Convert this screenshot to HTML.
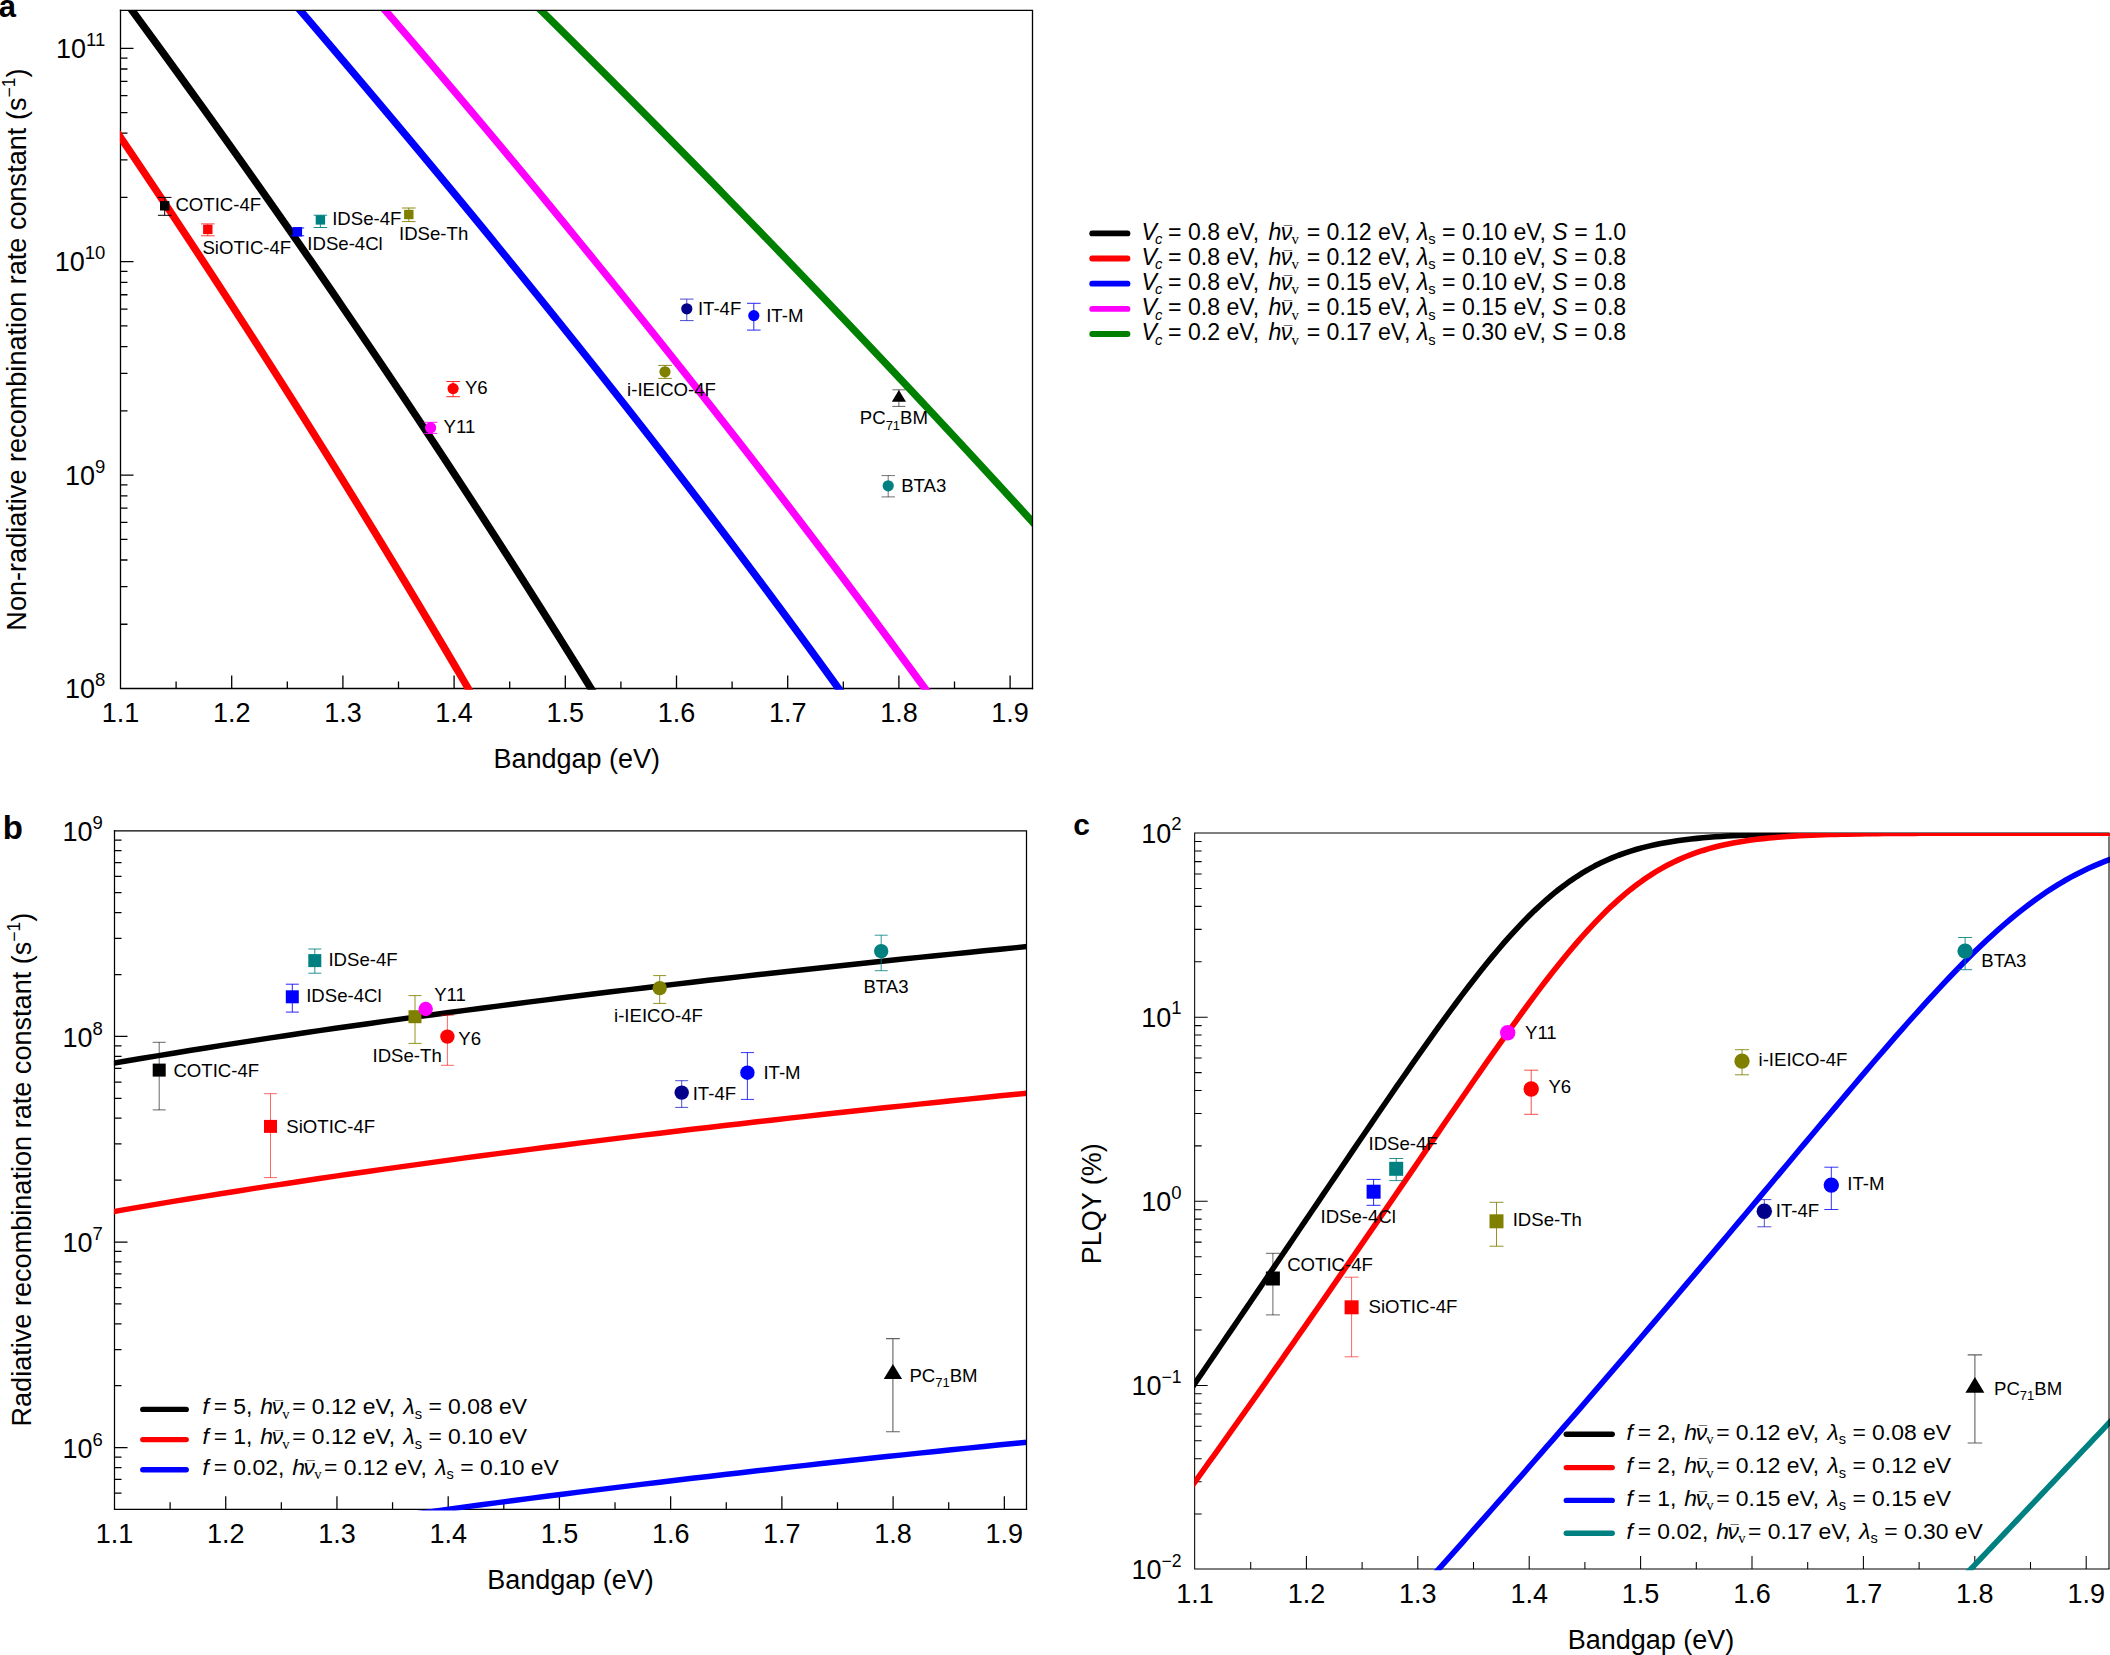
<!DOCTYPE html>
<html lang="en"><head><meta charset="utf-8"><title>Figure</title>
<style>html,body{margin:0;padding:0;background:#fff}svg{display:block}text{font-family:'Liberation Sans', sans-serif;fill:#000}</style>
</head><body>
<svg width="2110" height="1655" viewBox="0 0 2110 1655">
<rect width="2110" height="1655" fill="#fff"/>
<defs>
<clipPath id="ca"><rect x="119.9" y="10.45" width="912.6" height="679.35"/></clipPath>
<clipPath id="cb"><rect x="113.9" y="830.8" width="912.6" height="679.8"/></clipPath>
<clipPath id="cc"><rect x="1194.4" y="833" width="915.6" height="737.3"/></clipPath>
</defs>
<path d="M120.5 10.45V688.5H1032.5" fill="none" stroke="#000" stroke-width="1.3" stroke-linecap="square"/>
<path d="M176.1 688.5v-7M231.7 688.5v-13M287.3 688.5v-7M342.9 688.5v-13M398.5 688.5v-7M454.1 688.5v-13M509.7 688.5v-7M565.3 688.5v-13M620.9 688.5v-7M676.5 688.5v-13M732.1 688.5v-7M787.7 688.5v-13M843.3 688.5v-7M898.9 688.5v-13M954.5 688.5v-7M1010.1 688.5v-13M120.5 624.26h7M120.5 586.68h7M120.5 560.02h7M120.5 539.34h7M120.5 522.44h7M120.5 508.16h7M120.5 495.78h7M120.5 484.86h7M120.5 475.1h13M120.5 410.86h7M120.5 373.28h7M120.5 346.62h7M120.5 325.94h7M120.5 309.04h7M120.5 294.76h7M120.5 282.38h7M120.5 271.46h7M120.5 261.7h13M120.5 197.46h7M120.5 159.88h7M120.5 133.22h7M120.5 112.54h7M120.5 95.64h7M120.5 81.36h7M120.5 68.98h7M120.5 58.06h7M120.5 48.3h13" fill="none" stroke="#000" stroke-width="1.3"/>
<path d="M22.86 -4.55L31.25 7.45L39.62 19.45L47.96 31.45L56.28 43.45L64.57 55.45L72.84 67.46L81.09 79.46L89.31 91.46L97.51 103.46L105.69 115.46L113.84 127.46L121.96 139.46L130.07 151.46L138.15 163.46L146.2 175.46L154.23 187.46L162.24 199.46L170.23 211.47L178.19 223.47L186.12 235.47L194.04 247.47L201.93 259.47L209.79 271.47L217.63 283.47L225.45 295.47L233.24 307.47L241.01 319.47L248.76 331.47L256.48 343.47L264.18 355.48L271.85 367.48L279.5 379.48L287.13 391.48L294.73 403.48L302.31 415.48L309.86 427.48L317.39 439.48L324.9 451.48L332.38 463.48L339.84 475.48L347.27 487.48L354.69 499.49L362.07 511.49L369.44 523.49L376.78 535.49L384.09 547.49L391.38 559.49L398.65 571.49L405.9 583.49L413.12 595.49L420.31 607.49L427.48 619.49L434.63 631.49L441.76 643.5L448.86 655.5L455.94 667.5L462.99 679.5L470.02 691.5L477.02 703.5" fill="none" stroke="#ff0000" stroke-width="7.4" stroke-linejoin="round" clip-path="url(#ca)"/>
<path d="M121.06 -4.55L129.9 7.45L138.72 19.45L147.51 31.45L156.28 43.45L165.02 55.45L173.74 67.46L182.43 79.46L191.1 91.46L199.75 103.46L208.37 115.46L216.96 127.46L225.53 139.46L234.07 151.46L242.59 163.46L251.09 175.46L259.56 187.46L268 199.46L276.42 211.47L284.82 223.47L293.19 235.47L301.53 247.47L309.85 259.47L318.15 271.47L326.42 283.47L334.67 295.47L342.89 307.47L351.09 319.47L359.26 331.47L367.4 343.47L375.53 355.48L383.62 367.48L391.7 379.48L399.74 391.48L407.77 403.48L415.76 415.48L423.74 427.48L431.68 439.48L439.61 451.48L447.51 463.48L455.38 475.48L463.23 487.48L471.05 499.49L478.85 511.49L486.63 523.49L494.38 535.49L502.1 547.49L509.8 559.49L517.47 571.49L525.12 583.49L532.75 595.49L540.35 607.49L547.92 619.49L555.48 631.49L563 643.5L570.5 655.5L577.98 667.5L585.43 679.5L592.86 691.5L600.26 703.5" fill="none" stroke="#000000" stroke-width="7.4" stroke-linejoin="round" clip-path="url(#ca)"/>
<path d="M287.42 -4.55L297.7 7.45L307.95 19.45L318.19 31.45L328.41 43.45L338.6 55.45L348.77 67.46L358.92 79.46L369.05 91.46L379.15 103.46L389.24 115.46L399.3 127.46L409.33 139.46L419.34 151.46L429.33 163.46L439.29 175.46L449.23 187.46L459.15 199.46L469.04 211.47L478.9 223.47L488.74 235.47L498.55 247.47L508.33 259.47L518.09 271.47L527.82 283.47L537.53 295.47L547.21 307.47L556.86 319.47L566.48 331.47L576.07 343.47L585.64 355.48L595.17 367.48L604.68 379.48L614.16 391.48L623.61 403.48L633.03 415.48L642.41 427.48L651.77 439.48L661.1 451.48L670.39 463.48L679.66 475.48L688.89 487.48L698.09 499.49L707.26 511.49L716.39 523.49L725.5 535.49L734.57 547.49L743.6 559.49L752.61 571.49L761.58 583.49L770.51 595.49L779.41 607.49L788.28 619.49L797.11 631.49L805.9 643.5L814.66 655.5L823.39 667.5L832.08 679.5L840.73 691.5L849.34 703.5" fill="none" stroke="#0000ff" stroke-width="7.4" stroke-linejoin="round" clip-path="url(#ca)"/>
<path d="M372.38 -4.55L382.73 7.45L393.05 19.45L403.35 31.45L413.62 43.45L423.86 55.45L434.07 67.46L444.25 79.46L454.41 91.46L464.54 103.46L474.64 115.46L484.72 127.46L494.76 139.46L504.78 151.46L514.78 163.46L524.74 175.46L534.68 187.46L544.59 199.46L554.47 211.47L564.32 223.47L574.15 235.47L583.95 247.47L593.72 259.47L603.46 271.47L613.18 283.47L622.87 295.47L632.53 307.47L642.16 319.47L651.77 331.47L661.35 343.47L670.9 355.48L680.42 367.48L689.92 379.48L699.39 391.48L708.83 403.48L718.24 415.48L727.63 427.48L736.99 439.48L746.32 451.48L755.62 463.48L764.9 475.48L774.14 487.48L783.36 499.49L792.56 511.49L801.72 523.49L810.86 535.49L819.97 547.49L829.05 559.49L838.11 571.49L847.14 583.49L856.14 595.49L865.11 607.49L874.05 619.49L882.97 631.49L891.86 643.5L900.72 655.5L909.56 667.5L918.37 679.5L927.15 691.5L935.9 703.5" fill="none" stroke="#ff00ff" stroke-width="7.4" stroke-linejoin="round" clip-path="url(#ca)"/>
<path d="M525.92 -4.55L538.07 7.45L550.2 19.45L562.29 31.45L574.36 43.45L586.4 55.45L598.41 67.46L610.4 79.46L622.35 91.46L634.28 103.46L646.18 115.46L658.05 127.46L669.89 139.46L681.71 151.46L693.49 163.46L705.25 175.46L716.98 187.46L728.68 199.46L740.36 211.47L752 223.47L763.62 235.47L775.21 247.47L786.77 259.47L798.3 271.47L809.81 283.47L821.28 295.47L832.73 307.47L844.15 319.47L855.54 331.47L866.91 343.47L878.24 355.48L889.55 367.48L900.83 379.48L912.08 391.48L923.3 403.48L934.49 415.48L945.66 427.48L956.8 439.48L967.91 451.48L978.99 463.48L990.04 475.48L1001.07 487.48L1012.06 499.49L1023.03 511.49L1033.97 523.49L1044.89 535.49L1055.77 547.49L1066.63 559.49L1077.45 571.49L1088.25 583.49L1099.02 595.49L1109.77 607.49L1120.48 619.49L1131.17 631.49L1141.83 643.5L1152.46 655.5L1163.06 667.5L1173.63 679.5L1184.18 691.5L1194.7 703.5" fill="none" stroke="#008000" stroke-width="7.4" stroke-linejoin="round" clip-path="url(#ca)"/>
<path d="M164.7 197.4V215.3M157.9 197.4h13.6M157.9 215.3h13.6" fill="none" stroke="#000" stroke-width="1.0" stroke-opacity="1.0"/>
<rect x="160" y="201.1" width="9.4" height="9.4" fill="#000000"/>
<path d="M207.8 223.9V235.8M201 223.9h13.6M201 235.8h13.6" fill="none" stroke="#ff0000" stroke-width="1.0" stroke-opacity="0.75"/>
<rect x="203.1" y="224.7" width="9.4" height="9.4" fill="#ff0000"/>
<path d="M297.4 228V235.8M290.6 228h13.6M290.6 235.8h13.6" fill="none" stroke="#0000ff" stroke-width="1.0" stroke-opacity="0.9"/>
<rect x="292.7" y="227.1" width="9.4" height="9.4" fill="#0000ff"/>
<path d="M320.4 215.2V227.5M313.6 215.2h13.6M313.6 227.5h13.6" fill="none" stroke="#008080" stroke-width="1.0" stroke-opacity="0.9"/>
<rect x="315.7" y="215.2" width="9.4" height="9.4" fill="#008080"/>
<path d="M408.8 208V221.6M402 208h13.6M402 221.6h13.6" fill="none" stroke="#808000" stroke-width="1.0" stroke-opacity="0.9"/>
<rect x="404.1" y="209.8" width="9.4" height="9.4" fill="#808000"/>
<path d="M453.1 381.5V396.7M446.3 381.5h13.6M446.3 396.7h13.6" fill="none" stroke="#ff0000" stroke-width="1.0" stroke-opacity="0.85"/>
<circle cx="453.1" cy="388.6" r="5.6" fill="#ff0000"/>
<path d="M430.6 422.3V433.4M423.8 422.3h13.6M423.8 433.4h13.6" fill="none" stroke="#ff00ff" stroke-width="1.0" stroke-opacity="0.9"/>
<circle cx="430.6" cy="427.7" r="5.6" fill="#ff00ff"/>
<path d="M665 365.4V378.4M658.2 365.4h13.6M658.2 378.4h13.6" fill="none" stroke="#808000" stroke-width="1.0" stroke-opacity="0.9"/>
<circle cx="665" cy="371.8" r="5.6" fill="#808000"/>
<path d="M686.8 299.1V320.6M680 299.1h13.6M680 320.6h13.6" fill="none" stroke="#0000c0" stroke-width="1.0" stroke-opacity="0.7"/>
<circle cx="686.8" cy="308.8" r="5.6" fill="#00008b"/>
<path d="M753.8 303.3V330.1M747 303.3h13.6M747 330.1h13.6" fill="none" stroke="#0000ff" stroke-width="1.0" stroke-opacity="0.85"/>
<circle cx="753.8" cy="315.6" r="5.6" fill="#0000ff"/>
<path d="M888.2 475.6V496.9M881.4 475.6h13.6M881.4 496.9h13.6" fill="none" stroke="#000" stroke-width="1.0" stroke-opacity="0.55"/>
<circle cx="888.2" cy="485.8" r="5.6" fill="#008080"/>
<path d="M898.9 389.8V406.4M892.4 389.8h13M892.4 406.4h13" fill="none" stroke="#000" stroke-width="1.0" stroke-opacity="0.6"/>
<path d="M898.9 390L906 401.8H891.8Z" fill="#000"/>
<text x="175.4" y="210.9" font-size="18.6">COTIC-4F</text>
<text x="202.4" y="253.6" font-size="18.6">SiOTIC-4F</text>
<text x="307.3" y="249.5" font-size="18.6">IDSe-4Cl</text>
<text x="332.2" y="225.1" font-size="18.6">IDSe-4F</text>
<text x="399" y="239.8" font-size="18.6">IDSe-Th</text>
<text x="464.9" y="394.3" font-size="18.6">Y6</text>
<text x="443.6" y="433.4" font-size="18.6">Y11</text>
<text x="627.1" y="395.7" font-size="18.6">i-IEICO-4F</text>
<text x="697.9" y="315.2" font-size="18.6">IT-4F</text>
<text x="766.2" y="322.3" font-size="18.6">IT-M</text>
<text x="901.2" y="491.5" font-size="18.6">BTA3</text>
<text x="859.8" y="424.2" font-size="18.6">PC<tspan font-size="13" dy="5.5">71</tspan><tspan dy="-5.5">BM</tspan></text>
<path d="M120.5 10.45H1032.5V688.5" fill="none" stroke="#000" stroke-width="1.3" stroke-linecap="square"/>
<text x="120.5" y="722.1" font-size="27" text-anchor="middle">1.1</text>
<text x="231.7" y="722.1" font-size="27" text-anchor="middle">1.2</text>
<text x="342.9" y="722.1" font-size="27" text-anchor="middle">1.3</text>
<text x="454.1" y="722.1" font-size="27" text-anchor="middle">1.4</text>
<text x="565.3" y="722.1" font-size="27" text-anchor="middle">1.5</text>
<text x="676.5" y="722.1" font-size="27" text-anchor="middle">1.6</text>
<text x="787.7" y="722.1" font-size="27" text-anchor="middle">1.7</text>
<text x="898.9" y="722.1" font-size="27" text-anchor="middle">1.8</text>
<text x="1010.1" y="722.1" font-size="27" text-anchor="middle">1.9</text>
<text x="105.3" y="698.2" font-size="27" text-anchor="end">10<tspan font-size="18.5" dy="-12.2">8</tspan></text>
<text x="105.3" y="484.8" font-size="27" text-anchor="end">10<tspan font-size="18.5" dy="-12.2">9</tspan></text>
<text x="105.3" y="271.4" font-size="27" text-anchor="end">10<tspan font-size="18.5" dy="-12.2">10</tspan></text>
<text x="105.3" y="58" font-size="27" text-anchor="end">10<tspan font-size="18.5" dy="-12.2">11</tspan></text>
<text x="576.7" y="768.3" font-size="27" text-anchor="middle">Bandgap (eV)</text>
<text transform="translate(26.3 349.6) rotate(-90)" font-size="27.1" text-anchor="middle">Non-radiative recombination rate constant (s<tspan font-size="17.5" dy="-11">−1</tspan><tspan dy="11">)</tspan></text>
<text x="-1.2" y="17.2" font-size="31" font-weight="bold">a</text>
<path d="M1092.2 233.4H1127.5" stroke="#000000" stroke-width="5.8" stroke-linecap="round"/>
<text x="1141.6" y="239.5" font-size="23.1" xml:space="preserve" style="white-space:pre"><tspan font-style="italic">V</tspan><tspan font-size="14.78" font-style="italic" dx="-2.1" dy="4.62">c</tspan><tspan dx="-0.6" dy="-4.62"> = 0.8 eV, </tspan><tspan font-style="italic" dx="3">h</tspan><tspan font-style="italic" dx="-0.7">ν</tspan><tspan font-size="15.13" dx="-8.55" dy="-3.63">¯</tspan><tspan font-size="14.78" font-family="'Liberation Serif',serif" dx="-0.61" dy="8.25">v</tspan><tspan dx="1.5" dy="-4.62"> = 0.12 eV, </tspan><tspan font-style="italic">λ</tspan><tspan font-size="14.78" dy="4.62">s</tspan><tspan dy="-4.62"> = 0.10 eV, </tspan><tspan font-style="italic">S</tspan><tspan> = 1.0</tspan></text>
<path d="M1092.2 258.5H1127.5" stroke="#ff0000" stroke-width="5.8" stroke-linecap="round"/>
<text x="1141.6" y="264.6" font-size="23.1" xml:space="preserve" style="white-space:pre"><tspan font-style="italic">V</tspan><tspan font-size="14.78" font-style="italic" dx="-2.1" dy="4.62">c</tspan><tspan dx="-0.6" dy="-4.62"> = 0.8 eV, </tspan><tspan font-style="italic" dx="3">h</tspan><tspan font-style="italic" dx="-0.7">ν</tspan><tspan font-size="15.13" dx="-8.55" dy="-3.63">¯</tspan><tspan font-size="14.78" font-family="'Liberation Serif',serif" dx="-0.61" dy="8.25">v</tspan><tspan dx="1.5" dy="-4.62"> = 0.12 eV, </tspan><tspan font-style="italic">λ</tspan><tspan font-size="14.78" dy="4.62">s</tspan><tspan dy="-4.62"> = 0.10 eV, </tspan><tspan font-style="italic">S</tspan><tspan> = 0.8</tspan></text>
<path d="M1092.2 283.7H1127.5" stroke="#0000ff" stroke-width="5.8" stroke-linecap="round"/>
<text x="1141.6" y="289.8" font-size="23.1" xml:space="preserve" style="white-space:pre"><tspan font-style="italic">V</tspan><tspan font-size="14.78" font-style="italic" dx="-2.1" dy="4.62">c</tspan><tspan dx="-0.6" dy="-4.62"> = 0.8 eV, </tspan><tspan font-style="italic" dx="3">h</tspan><tspan font-style="italic" dx="-0.7">ν</tspan><tspan font-size="15.13" dx="-8.55" dy="-3.63">¯</tspan><tspan font-size="14.78" font-family="'Liberation Serif',serif" dx="-0.61" dy="8.25">v</tspan><tspan dx="1.5" dy="-4.62"> = 0.15 eV, </tspan><tspan font-style="italic">λ</tspan><tspan font-size="14.78" dy="4.62">s</tspan><tspan dy="-4.62"> = 0.10 eV, </tspan><tspan font-style="italic">S</tspan><tspan> = 0.8</tspan></text>
<path d="M1092.2 308.9H1127.5" stroke="#ff00ff" stroke-width="5.8" stroke-linecap="round"/>
<text x="1141.6" y="315" font-size="23.1" xml:space="preserve" style="white-space:pre"><tspan font-style="italic">V</tspan><tspan font-size="14.78" font-style="italic" dx="-2.1" dy="4.62">c</tspan><tspan dx="-0.6" dy="-4.62"> = 0.8 eV, </tspan><tspan font-style="italic" dx="3">h</tspan><tspan font-style="italic" dx="-0.7">ν</tspan><tspan font-size="15.13" dx="-8.55" dy="-3.63">¯</tspan><tspan font-size="14.78" font-family="'Liberation Serif',serif" dx="-0.61" dy="8.25">v</tspan><tspan dx="1.5" dy="-4.62"> = 0.15 eV, </tspan><tspan font-style="italic">λ</tspan><tspan font-size="14.78" dy="4.62">s</tspan><tspan dy="-4.62"> = 0.15 eV, </tspan><tspan font-style="italic">S</tspan><tspan> = 0.8</tspan></text>
<path d="M1092.2 334H1127.5" stroke="#008000" stroke-width="5.8" stroke-linecap="round"/>
<text x="1141.6" y="340.1" font-size="23.1" xml:space="preserve" style="white-space:pre"><tspan font-style="italic">V</tspan><tspan font-size="14.78" font-style="italic" dx="-2.1" dy="4.62">c</tspan><tspan dx="-0.6" dy="-4.62"> = 0.2 eV, </tspan><tspan font-style="italic" dx="3">h</tspan><tspan font-style="italic" dx="-0.7">ν</tspan><tspan font-size="15.13" dx="-8.55" dy="-3.63">¯</tspan><tspan font-size="14.78" font-family="'Liberation Serif',serif" dx="-0.61" dy="8.25">v</tspan><tspan dx="1.5" dy="-4.62"> = 0.17 eV, </tspan><tspan font-style="italic">λ</tspan><tspan font-size="14.78" dy="4.62">s</tspan><tspan dy="-4.62"> = 0.30 eV, </tspan><tspan font-style="italic">S</tspan><tspan> = 0.8</tspan></text>
<path d="M114.5 830.8V1509.3H1026.5" fill="none" stroke="#000" stroke-width="1.25" stroke-linecap="square"/>
<path d="M170.12 1509.3v-7M225.73 1509.3v-13M281.34 1509.3v-7M336.96 1509.3v-13M392.57 1509.3v-7M448.19 1509.3v-13M503.81 1509.3v-7M559.42 1509.3v-13M615.03 1509.3v-7M670.65 1509.3v-13M726.26 1509.3v-7M781.88 1509.3v-13M837.49 1509.3v-7M893.11 1509.3v-13M948.72 1509.3v-7M1004.34 1509.3v-13M114.5 1493.21h7M114.5 1479.45h7M114.5 1467.52h7M114.5 1457.01h7M114.5 1447.6h13M114.5 1385.71h7M114.5 1349.5h7M114.5 1323.82h7M114.5 1303.89h7M114.5 1287.61h7M114.5 1273.85h7M114.5 1261.92h7M114.5 1251.41h7M114.5 1242h13M114.5 1180.11h7M114.5 1143.9h7M114.5 1118.22h7M114.5 1098.29h7M114.5 1082.01h7M114.5 1068.25h7M114.5 1056.32h7M114.5 1045.81h7M114.5 1036.4h13M114.5 974.51h7M114.5 938.3h7M114.5 912.62h7M114.5 892.69h7M114.5 876.41h7M114.5 862.65h7M114.5 850.72h7M114.5 840.21h7" fill="none" stroke="#000" stroke-width="1.25"/>
<path d="M92.25 1564.29L108.47 1561.45L124.68 1558.64L140.89 1555.87L157.11 1553.13L173.32 1550.43L189.53 1547.77L205.75 1545.13L221.96 1542.53L238.17 1539.96L254.39 1537.42L270.6 1534.91L286.81 1532.44L303.03 1529.98L319.24 1527.56L335.45 1525.17L351.66 1522.8L367.88 1520.45L384.09 1518.14L400.3 1515.84L416.52 1513.58L432.73 1511.33L448.94 1509.11L465.16 1506.91L481.37 1504.74L497.58 1502.59L513.8 1500.46L530.01 1498.35L546.22 1496.26L562.44 1494.19L578.65 1492.14L594.86 1490.11L611.08 1488.1L627.29 1486.11L643.5 1484.14L659.72 1482.18L675.93 1480.24L692.14 1478.33L708.36 1476.42L724.57 1474.54L740.78 1472.67L756.99 1470.82L773.21 1468.98L789.42 1467.16L805.63 1465.36L821.85 1463.57L838.06 1461.79L854.27 1460.03L870.49 1458.29L886.7 1456.56L902.91 1454.84L919.13 1453.13L935.34 1451.44L951.55 1449.77L967.77 1448.1L983.98 1446.45L1000.19 1444.82L1016.41 1443.19L1032.62 1441.58L1048.83 1439.98" fill="none" stroke="#0000ff" stroke-width="5.45" stroke-linejoin="round" clip-path="url(#cb)"/>
<path d="M92.25 1215.29L108.47 1212.45L124.68 1209.64L140.89 1206.87L157.11 1204.13L173.32 1201.43L189.53 1198.77L205.75 1196.13L221.96 1193.53L238.17 1190.96L254.39 1188.42L270.6 1185.91L286.81 1183.44L303.03 1180.98L319.24 1178.56L335.45 1176.17L351.66 1173.8L367.88 1171.45L384.09 1169.14L400.3 1166.84L416.52 1164.58L432.73 1162.33L448.94 1160.11L465.16 1157.91L481.37 1155.74L497.58 1153.59L513.8 1151.46L530.01 1149.35L546.22 1147.26L562.44 1145.19L578.65 1143.14L594.86 1141.11L611.08 1139.1L627.29 1137.11L643.5 1135.14L659.72 1133.18L675.93 1131.24L692.14 1129.33L708.36 1127.42L724.57 1125.54L740.78 1123.67L756.99 1121.82L773.21 1119.98L789.42 1118.16L805.63 1116.36L821.85 1114.57L838.06 1112.79L854.27 1111.03L870.49 1109.29L886.7 1107.56L902.91 1105.84L919.13 1104.13L935.34 1102.44L951.55 1100.77L967.77 1099.1L983.98 1097.45L1000.19 1095.82L1016.41 1094.19L1032.62 1092.58L1048.83 1090.98" fill="none" stroke="#ff0000" stroke-width="5.45" stroke-linejoin="round" clip-path="url(#cb)"/>
<path d="M92.25 1066.83L108.47 1064.03L124.68 1061.27L140.89 1058.54L157.11 1055.85L173.32 1053.19L189.53 1050.56L205.75 1047.97L221.96 1045.41L238.17 1042.88L254.39 1040.38L270.6 1037.91L286.81 1035.47L303.03 1033.06L319.24 1030.67L335.45 1028.31L351.66 1025.98L367.88 1023.68L384.09 1021.39L400.3 1019.14L416.52 1016.9L432.73 1014.7L448.94 1012.51L465.16 1010.35L481.37 1008.21L497.58 1006.09L513.8 1003.99L530.01 1001.91L546.22 999.86L562.44 997.82L578.65 995.8L594.86 993.8L611.08 991.83L627.29 989.87L643.5 987.92L659.72 986L675.93 984.09L692.14 982.2L708.36 980.33L724.57 978.48L740.78 976.64L756.99 974.81L773.21 973L789.42 971.21L805.63 969.44L821.85 967.67L838.06 965.93L854.27 964.19L870.49 962.48L886.7 960.77L902.91 959.08L919.13 957.4L935.34 955.74L951.55 954.09L967.77 952.45L983.98 950.83L1000.19 949.22L1016.41 947.62L1032.62 946.03L1048.83 944.45" fill="none" stroke="#000000" stroke-width="5.45" stroke-linejoin="round" clip-path="url(#cb)"/>
<path d="M159.2 1042.3V1109.9M152.7 1042.3h13M152.7 1109.9h13" fill="none" stroke="#000" stroke-width="1.0" stroke-opacity="0.6"/>
<rect x="152.7" y="1063.6" width="13" height="13" fill="#000000"/>
<path d="M270.5 1093.7V1177.6M264 1093.7h13M264 1177.6h13" fill="none" stroke="#ff0000" stroke-width="1.0" stroke-opacity="0.6"/>
<rect x="264" y="1119.9" width="13" height="13" fill="#ff0000"/>
<path d="M292.3 984.2V1012.1M285.8 984.2h13M285.8 1012.1h13" fill="none" stroke="#0000ff" stroke-width="1.0" stroke-opacity="0.85"/>
<rect x="285.8" y="990.3" width="13" height="13" fill="#0000ff"/>
<path d="M314.8 949V973.2M308.3 949h13M308.3 973.2h13" fill="none" stroke="#008080" stroke-width="1.0" stroke-opacity="0.85"/>
<rect x="308.3" y="954.1" width="13" height="13" fill="#008080"/>
<path d="M415 995.6V1043.4M408.5 995.6h13M408.5 1043.4h13" fill="none" stroke="#808000" stroke-width="1.0" stroke-opacity="0.85"/>
<rect x="408.5" y="1010.2" width="13" height="13" fill="#808000"/>
<path d="M447.4 1015.2V1065.3M440.9 1015.2h13M440.9 1065.3h13" fill="none" stroke="#ff0000" stroke-width="1.0" stroke-opacity="0.6"/>
<circle cx="447.4" cy="1036.6" r="7.2" fill="#ff0000"/>
<circle cx="425.7" cy="1009" r="7.2" fill="#ff00ff"/>
<path d="M659.7 975.6V1003.4M653.2 975.6h13M653.2 1003.4h13" fill="none" stroke="#808000" stroke-width="1.0" stroke-opacity="0.85"/>
<circle cx="659.7" cy="988.1" r="7.2" fill="#808000"/>
<path d="M881.2 935.2V970.7M874.7 935.2h13M874.7 970.7h13" fill="none" stroke="#008080" stroke-width="1.0" stroke-opacity="0.8"/>
<circle cx="881.2" cy="951.1" r="7.2" fill="#008080"/>
<path d="M747.4 1052.6V1099.4M740.9 1052.6h13M740.9 1099.4h13" fill="none" stroke="#0000ff" stroke-width="1.0" stroke-opacity="0.8"/>
<circle cx="747.4" cy="1072.7" r="7.2" fill="#0000ff"/>
<path d="M681.7 1080.7V1107.4M675.2 1080.7h13M675.2 1107.4h13" fill="none" stroke="#0000c0" stroke-width="1.0" stroke-opacity="0.7"/>
<circle cx="681.7" cy="1092.6" r="7.2" fill="#00008b"/>
<text x="173.4" y="1077.2" font-size="18.6">COTIC-4F</text>
<text x="286.3" y="1133.2" font-size="18.6">SiOTIC-4F</text>
<text x="306.2" y="1002.4" font-size="18.6">IDSe-4Cl</text>
<text x="328.4" y="966.3" font-size="18.6">IDSe-4F</text>
<text x="372.5" y="1062.2" font-size="18.6">IDSe-Th</text>
<text x="434.2" y="1001.3" font-size="18.6">Y11</text>
<text x="458.3" y="1045.1" font-size="18.6">Y6</text>
<text x="614" y="1022.4" font-size="18.6">i-IEICO-4F</text>
<text x="863.4" y="992.6" font-size="18.6">BTA3</text>
<text x="763.4" y="1079" font-size="18.6">IT-M</text>
<text x="692.7" y="1099.7" font-size="18.6">IT-4F</text>
<path d="M114.5 830.8H1026.5V1509.3" fill="none" stroke="#000" stroke-width="1.25" stroke-linecap="square"/>
<text x="114.5" y="1542.6" font-size="27" text-anchor="middle">1.1</text>
<text x="225.73" y="1542.6" font-size="27" text-anchor="middle">1.2</text>
<text x="336.96" y="1542.6" font-size="27" text-anchor="middle">1.3</text>
<text x="448.19" y="1542.6" font-size="27" text-anchor="middle">1.4</text>
<text x="559.42" y="1542.6" font-size="27" text-anchor="middle">1.5</text>
<text x="670.65" y="1542.6" font-size="27" text-anchor="middle">1.6</text>
<text x="781.88" y="1542.6" font-size="27" text-anchor="middle">1.7</text>
<text x="893.11" y="1542.6" font-size="27" text-anchor="middle">1.8</text>
<text x="1004.34" y="1542.6" font-size="27" text-anchor="middle">1.9</text>
<text x="102.8" y="1457.9" font-size="27" text-anchor="end">10<tspan font-size="18.5" dy="-12.2">6</tspan></text>
<text x="102.8" y="1252.3" font-size="27" text-anchor="end">10<tspan font-size="18.5" dy="-12.2">7</tspan></text>
<text x="102.8" y="1046.7" font-size="27" text-anchor="end">10<tspan font-size="18.5" dy="-12.2">8</tspan></text>
<text x="102.8" y="841.1" font-size="27" text-anchor="end">10<tspan font-size="18.5" dy="-12.2">9</tspan></text>
<text x="570.5" y="1589" font-size="27" text-anchor="middle">Bandgap (eV)</text>
<text transform="translate(31.2 1169.6) rotate(-90)" font-size="27.1" text-anchor="middle">Radiative recombination rate constant (s<tspan font-size="17.5" dy="-11">−1</tspan><tspan dy="11">)</tspan></text>
<text x="2.8" y="838.6" font-size="33" font-weight="bold">b</text>
<path d="M142.8 1409.4H186.2" stroke="#000000" stroke-width="5.4" stroke-linecap="round"/>
<text x="202.6" y="1414.2" font-size="22.9" xml:space="preserve" style="white-space:pre"><tspan font-style="italic">f</tspan><tspan dx="-1.7"> = 5, </tspan><tspan font-style="italic" dx="1.5">h</tspan><tspan font-style="italic" dx="-1.3">ν</tspan><tspan font-size="15" dx="-8.47" dy="-3.6">¯</tspan><tspan font-size="14.66" font-family="'Liberation Serif',serif" dx="-0.71" dy="8.18">v</tspan><tspan dx="2.5" dy="-4.58">= 0.12 eV, </tspan><tspan font-style="italic" dx="2">λ</tspan><tspan font-size="14.66" dy="4.58">s</tspan><tspan dy="-4.58"> = 0.08 eV</tspan></text>
<path d="M142.8 1439.6H186.2" stroke="#ff0000" stroke-width="5.4" stroke-linecap="round"/>
<text x="202.6" y="1444.4" font-size="22.9" xml:space="preserve" style="white-space:pre"><tspan font-style="italic">f</tspan><tspan dx="-1.7"> = 1, </tspan><tspan font-style="italic" dx="1.5">h</tspan><tspan font-style="italic" dx="-1.3">ν</tspan><tspan font-size="15" dx="-8.47" dy="-3.6">¯</tspan><tspan font-size="14.66" font-family="'Liberation Serif',serif" dx="-0.71" dy="8.18">v</tspan><tspan dx="2.5" dy="-4.58">= 0.12 eV, </tspan><tspan font-style="italic" dx="2">λ</tspan><tspan font-size="14.66" dy="4.58">s</tspan><tspan dy="-4.58"> = 0.10 eV</tspan></text>
<path d="M142.8 1469.7H186.2" stroke="#0000ff" stroke-width="5.4" stroke-linecap="round"/>
<text x="202.6" y="1474.5" font-size="22.9" xml:space="preserve" style="white-space:pre"><tspan font-style="italic">f</tspan><tspan dx="-1.7"> = 0.02, </tspan><tspan font-style="italic" dx="1.5">h</tspan><tspan font-style="italic" dx="-1.3">ν</tspan><tspan font-size="15" dx="-8.47" dy="-3.6">¯</tspan><tspan font-size="14.66" font-family="'Liberation Serif',serif" dx="-0.71" dy="8.18">v</tspan><tspan dx="2.5" dy="-4.58">= 0.12 eV, </tspan><tspan font-style="italic" dx="2">λ</tspan><tspan font-size="14.66" dy="4.58">s</tspan><tspan dy="-4.58"> = 0.10 eV</tspan></text>
<path d="M892.9 1338.6V1431.7M886 1338.6h13.8M886 1431.7h13.8" fill="none" stroke="#000" stroke-width="1.1" stroke-opacity="0.62"/>
<path d="M892.9 1364L902.1 1378.9H883.7Z" fill="#000"/>
<text x="909.4" y="1381.8" font-size="18.6">PC<tspan font-size="13" dy="5.5">71</tspan><tspan dy="-5.5">BM</tspan></text>
<path d="M2109 833H1194.65V1569H2109" fill="none" stroke="#000" stroke-width="1.05" stroke-linecap="square"/>
<path d="M1250.7 1569v-7M1306.4 1569v-13M1362.1 1569v-7M1417.8 1569v-13M1473.5 1569v-7M1529.2 1569v-13M1584.9 1569v-7M1640.6 1569v-13M1696.3 1569v-7M1752 1569v-13M1807.7 1569v-7M1863.4 1569v-13M1919.1 1569v-7M1974.8 1569v-13M2030.5 1569v-7M2086.2 1569v-13M1194.65 1514.08h7M1194.65 1481.66h7M1194.65 1458.66h7M1194.65 1440.82h7M1194.65 1426.24h7M1194.65 1413.92h7M1194.65 1403.24h7M1194.65 1393.82h7M1194.65 1385.4h13M1194.65 1329.98h7M1194.65 1297.56h7M1194.65 1274.56h7M1194.65 1256.72h7M1194.65 1242.14h7M1194.65 1229.82h7M1194.65 1219.14h7M1194.65 1209.72h7M1194.65 1201.3h13M1194.65 1145.88h7M1194.65 1113.46h7M1194.65 1090.46h7M1194.65 1072.62h7M1194.65 1058.04h7M1194.65 1045.72h7M1194.65 1035.04h7M1194.65 1025.62h7M1194.65 1017.2h13M1194.65 961.78h7M1194.65 929.36h7M1194.65 906.36h7M1194.65 888.52h7M1194.65 873.94h7M1194.65 861.62h7M1194.65 850.94h7M1194.65 841.52h7" fill="none" stroke="#000" stroke-width="1.05"/>
<path d="M1172.72 2413.17L1178.75 2406.79L1184.77 2400.42L1190.8 2394.05L1196.82 2387.68L1202.85 2381.3L1208.87 2374.93L1214.9 2368.56L1220.92 2362.19L1226.95 2355.81L1232.97 2349.44L1239 2343.07L1245.02 2336.69L1251.05 2330.32L1257.08 2323.95L1263.1 2317.58L1269.13 2311.2L1275.15 2304.83L1281.18 2298.46L1287.2 2292.09L1293.23 2285.71L1299.25 2279.34L1305.28 2272.97L1311.3 2266.6L1317.33 2260.22L1323.36 2253.85L1329.38 2247.48L1335.41 2241.1L1341.43 2234.73L1347.46 2228.36L1353.48 2221.99L1359.51 2215.61L1365.53 2209.24L1371.56 2202.87L1377.58 2196.5L1383.61 2190.12L1389.63 2183.75L1395.66 2177.38L1401.69 2171.01L1407.71 2164.63L1413.74 2158.26L1419.76 2151.89L1425.79 2145.51L1431.81 2139.14L1437.84 2132.77L1443.86 2126.4L1449.89 2120.02L1455.91 2113.65L1461.94 2107.28L1467.97 2100.91L1473.99 2094.53L1480.02 2088.16L1486.04 2081.79L1492.07 2075.42L1498.09 2069.04L1504.12 2062.67L1510.14 2056.3L1516.17 2049.93L1522.19 2043.55L1528.22 2037.18L1534.24 2030.81L1540.27 2024.43L1546.3 2018.06L1552.32 2011.69L1558.35 2005.32L1564.37 1998.94L1570.4 1992.57L1576.42 1986.2L1582.45 1979.83L1588.47 1973.45L1594.5 1967.08L1600.52 1960.71L1606.55 1954.34L1612.57 1947.96L1618.6 1941.59L1624.63 1935.22L1630.65 1928.84L1636.68 1922.47L1642.7 1916.1L1648.73 1909.73L1654.75 1903.35L1660.78 1896.98L1666.8 1890.61L1672.83 1884.24L1678.85 1877.86L1684.88 1871.49L1690.91 1865.12L1696.93 1858.75L1702.96 1852.37L1708.98 1846L1715.01 1839.63L1721.03 1833.25L1727.06 1826.88L1733.08 1820.51L1739.11 1814.14L1745.13 1807.76L1751.16 1801.39L1757.18 1795.02L1763.21 1788.65L1769.24 1782.27L1775.26 1775.9L1781.29 1769.53L1787.31 1763.16L1793.34 1756.78L1799.36 1750.41L1805.39 1744.04L1811.41 1737.67L1817.44 1731.29L1823.46 1724.92L1829.49 1718.55L1835.51 1712.18L1841.54 1705.8L1847.57 1699.43L1853.59 1693.06L1859.62 1686.68L1865.64 1680.31L1871.67 1673.94L1877.69 1667.57L1883.72 1661.19L1889.74 1654.82L1895.77 1648.45L1901.79 1642.08L1907.82 1635.71L1913.85 1629.33L1919.87 1622.96L1925.9 1616.59L1931.92 1610.22L1937.95 1603.84L1943.97 1597.47L1950 1591.1L1956.02 1584.73L1962.05 1578.35L1968.07 1571.98L1974.1 1565.61L1980.12 1559.24L1986.15 1552.87L1992.18 1546.5L1998.2 1540.12L2004.23 1533.75L2010.25 1527.38L2016.28 1521.01L2022.3 1514.64L2028.33 1508.27L2034.35 1501.89L2040.38 1495.52L2046.4 1489.15L2052.43 1482.78L2058.46 1476.41L2064.48 1470.04L2070.51 1463.67L2076.53 1457.3L2082.56 1450.93L2088.58 1444.56L2094.61 1438.19L2100.63 1431.82L2106.66 1425.45L2112.68 1419.08L2118.71 1412.72L2124.73 1406.35L2130.76 1399.98" fill="none" stroke="#008080" stroke-width="5.6" stroke-linejoin="round" clip-path="url(#cc)"/>
<path d="M1172.72 1857.17L1178.75 1850.85L1184.77 1844.53L1190.8 1838.19L1196.82 1831.84L1202.85 1825.49L1208.87 1819.12L1214.9 1812.75L1220.92 1806.36L1226.95 1799.97L1232.97 1793.56L1239 1787.15L1245.02 1780.72L1251.05 1774.29L1257.08 1767.85L1263.1 1761.39L1269.13 1754.93L1275.15 1748.46L1281.18 1741.98L1287.2 1735.49L1293.23 1728.98L1299.25 1722.47L1305.28 1715.95L1311.3 1709.42L1317.33 1702.88L1323.36 1696.33L1329.38 1689.77L1335.41 1683.2L1341.43 1676.63L1347.46 1670.04L1353.48 1663.44L1359.51 1656.83L1365.53 1650.21L1371.56 1643.59L1377.58 1636.95L1383.61 1630.3L1389.63 1623.65L1395.66 1616.98L1401.69 1610.31L1407.71 1603.62L1413.74 1596.93L1419.76 1590.22L1425.79 1583.51L1431.81 1576.79L1437.84 1570.05L1443.86 1563.31L1449.89 1556.56L1455.91 1549.8L1461.94 1543.02L1467.97 1536.24L1473.99 1529.45L1480.02 1522.65L1486.04 1515.84L1492.07 1509.02L1498.09 1502.19L1504.12 1495.35L1510.14 1488.5L1516.17 1481.65L1522.19 1474.78L1528.22 1467.9L1534.24 1461.02L1540.27 1454.12L1546.3 1447.21L1552.32 1440.3L1558.35 1433.38L1564.37 1426.44L1570.4 1419.5L1576.42 1412.55L1582.45 1405.59L1588.47 1398.62L1594.5 1391.64L1600.52 1384.65L1606.55 1377.65L1612.57 1370.64L1618.6 1363.63L1624.63 1356.6L1630.65 1349.57L1636.68 1342.53L1642.7 1335.48L1648.73 1328.42L1654.75 1321.35L1660.78 1314.27L1666.8 1307.19L1672.83 1300.1L1678.85 1293L1684.88 1285.89L1690.91 1278.77L1696.93 1271.65L1702.96 1264.52L1708.98 1257.39L1715.01 1250.25L1721.03 1243.1L1727.06 1235.94L1733.08 1228.78L1739.11 1221.62L1745.13 1214.45L1751.16 1207.27L1757.18 1200.1L1763.21 1192.92L1769.24 1185.73L1775.26 1178.55L1781.29 1171.37L1787.31 1164.18L1793.34 1157L1799.36 1149.81L1805.39 1142.64L1811.41 1135.46L1817.44 1128.29L1823.46 1121.13L1829.49 1113.98L1835.51 1106.83L1841.54 1099.7L1847.57 1092.58L1853.59 1085.48L1859.62 1078.4L1865.64 1071.34L1871.67 1064.3L1877.69 1057.29L1883.72 1050.31L1889.74 1043.37L1895.77 1036.46L1901.79 1029.59L1907.82 1022.77L1913.85 1016L1919.87 1009.29L1925.9 1002.64L1931.92 996.05L1937.95 989.54L1943.97 983.1L1950 976.75L1956.02 970.48L1962.05 964.32L1968.07 958.26L1974.1 952.31L1980.12 946.48L1986.15 940.78L1992.18 935.21L1998.2 929.78L2004.23 924.49L2010.25 919.36L2016.28 914.38L2022.3 909.57L2028.33 904.93L2034.35 900.46L2040.38 896.16L2046.4 892.05L2052.43 888.11L2058.46 884.36L2064.48 880.79L2070.51 877.4L2076.53 874.19L2082.56 871.16L2088.58 868.3L2094.61 865.61L2100.63 863.09L2106.66 860.73L2112.68 858.52L2118.71 856.46L2124.73 854.55L2130.76 852.77" fill="none" stroke="#0000ff" stroke-width="5.6" stroke-linejoin="round" clip-path="url(#cc)"/>
<path d="M1172.72 1415.84L1178.75 1407.05L1184.77 1398.25L1190.8 1389.44L1196.82 1380.62L1202.85 1371.8L1208.87 1362.97L1214.9 1354.13L1220.92 1345.29L1226.95 1336.44L1232.97 1327.58L1239 1318.71L1245.02 1309.84L1251.05 1300.97L1257.08 1292.09L1263.1 1283.2L1269.13 1274.31L1275.15 1265.41L1281.18 1256.51L1287.2 1247.61L1293.23 1238.7L1299.25 1229.79L1305.28 1220.88L1311.3 1211.97L1317.33 1203.06L1323.36 1194.15L1329.38 1185.25L1335.41 1176.34L1341.43 1167.45L1347.46 1158.56L1353.48 1149.67L1359.51 1140.8L1365.53 1131.95L1371.56 1123.11L1377.58 1114.28L1383.61 1105.48L1389.63 1096.71L1395.66 1087.96L1401.69 1079.24L1407.71 1070.57L1413.74 1061.93L1419.76 1053.35L1425.79 1044.81L1431.81 1036.34L1437.84 1027.94L1443.86 1019.62L1449.89 1011.37L1455.91 1003.23L1461.94 995.18L1467.97 987.25L1473.99 979.45L1480.02 971.78L1486.04 964.25L1492.07 956.89L1498.09 949.7L1504.12 942.7L1510.14 935.89L1516.17 929.29L1522.19 922.91L1528.22 916.76L1534.24 910.85L1540.27 905.2L1546.3 899.79L1552.32 894.65L1558.35 889.78L1564.37 885.17L1570.4 880.83L1576.42 876.76L1582.45 872.95L1588.47 869.4L1594.5 866.11L1600.52 863.05L1606.55 860.23L1612.57 857.64L1618.6 855.25L1624.63 853.07L1630.65 851.08L1636.68 849.27L1642.7 847.62L1648.73 846.12L1654.75 844.77L1660.78 843.55L1666.8 842.44L1672.83 841.45L1678.85 840.56L1684.88 839.75L1690.91 839.03L1696.93 838.39L1702.96 837.81L1708.98 837.3L1715.01 836.83L1721.03 836.42L1727.06 836.05L1733.08 835.73L1739.11 835.43L1745.13 835.17L1751.16 834.94L1757.18 834.73L1763.21 834.55L1769.24 834.39L1775.26 834.24L1781.29 834.11L1787.31 834L1793.34 833.9L1799.36 833.81L1805.39 833.73L1811.41 833.66L1817.44 833.59L1823.46 833.54L1829.49 833.49L1835.51 833.44L1841.54 833.4L1847.57 833.37L1853.59 833.34L1859.62 833.31L1865.64 833.29L1871.67 833.26L1877.69 833.25L1883.72 833.23L1889.74 833.21L1895.77 833.2L1901.79 833.19L1907.82 833.18L1913.85 833.17L1919.87 833.16L1925.9 833.15L1931.92 833.15L1937.95 833.14L1943.97 833.14L1950 833.13L1956.02 833.13L1962.05 833.13L1968.07 833.12L1974.1 833.12L1980.12 833.12L1986.15 833.12L1992.18 833.11L1998.2 833.11L2004.23 833.11L2010.25 833.11L2016.28 833.11L2022.3 833.11L2028.33 833.11L2034.35 833.11L2040.38 833.11L2046.4 833.1L2052.43 833.1L2058.46 833.1L2064.48 833.1L2070.51 833.1L2076.53 833.1L2082.56 833.1L2088.58 833.1L2094.61 833.1L2100.63 833.1L2106.66 833.1L2112.68 833.1L2118.71 833.1L2124.73 833.1L2130.76 833.1" fill="none" stroke="#000000" stroke-width="5.6" stroke-linejoin="round" clip-path="url(#cc)"/>
<path d="M1172.72 1512.7L1178.75 1504.36L1184.77 1496.01L1190.8 1487.64L1196.82 1479.26L1202.85 1470.86L1208.87 1462.45L1214.9 1454.02L1220.92 1445.58L1226.95 1437.12L1232.97 1428.64L1239 1420.16L1245.02 1411.65L1251.05 1403.13L1257.08 1394.6L1263.1 1386.05L1269.13 1377.49L1275.15 1368.92L1281.18 1360.33L1287.2 1351.72L1293.23 1343.1L1299.25 1334.47L1305.28 1325.83L1311.3 1317.17L1317.33 1308.49L1323.36 1299.81L1329.38 1291.11L1335.41 1282.4L1341.43 1273.68L1347.46 1264.95L1353.48 1256.2L1359.51 1247.45L1365.53 1238.68L1371.56 1229.91L1377.58 1221.12L1383.61 1212.33L1389.63 1203.54L1395.66 1194.73L1401.69 1185.92L1407.71 1177.11L1413.74 1168.3L1419.76 1159.49L1425.79 1150.68L1431.81 1141.87L1437.84 1133.07L1443.86 1124.27L1449.89 1115.49L1455.91 1106.72L1461.94 1097.97L1467.97 1089.24L1473.99 1080.53L1480.02 1071.86L1486.04 1063.22L1492.07 1054.62L1498.09 1046.07L1504.12 1037.57L1510.14 1029.14L1516.17 1020.77L1522.19 1012.48L1528.22 1004.28L1534.24 996.17L1540.27 988.18L1546.3 980.3L1552.32 972.55L1558.35 964.95L1564.37 957.5L1570.4 950.23L1576.42 943.13L1582.45 936.23L1588.47 929.54L1594.5 923.07L1600.52 916.83L1606.55 910.83L1612.57 905.09L1618.6 899.61L1624.63 894.39L1630.65 889.45L1636.68 884.78L1642.7 880.39L1648.73 876.27L1654.75 872.42L1660.78 868.83L1666.8 865.51L1672.83 862.43L1678.85 859.6L1684.88 857L1690.91 854.62L1696.93 852.44L1702.96 850.45L1708.98 848.65L1715.01 847.02L1721.03 845.54L1727.06 844.21L1733.08 843.01L1739.11 841.93L1745.13 840.96L1751.16 840.09L1757.18 839.31L1763.21 838.62L1769.24 838L1775.26 837.45L1781.29 836.95L1787.31 836.51L1793.34 836.12L1799.36 835.78L1805.39 835.47L1811.41 835.19L1817.44 834.95L1823.46 834.74L1829.49 834.54L1835.51 834.38L1841.54 834.23L1847.57 834.09L1853.59 833.98L1859.62 833.87L1865.64 833.78L1871.67 833.7L1877.69 833.63L1883.72 833.57L1889.74 833.51L1895.77 833.46L1901.79 833.42L1907.82 833.38L1913.85 833.35L1919.87 833.32L1925.9 833.29L1931.92 833.27L1937.95 833.25L1943.97 833.23L1950 833.21L1956.02 833.2L1962.05 833.19L1968.07 833.18L1974.1 833.17L1980.12 833.16L1986.15 833.15L1992.18 833.15L1998.2 833.14L2004.23 833.14L2010.25 833.13L2016.28 833.13L2022.3 833.12L2028.33 833.12L2034.35 833.12L2040.38 833.12L2046.4 833.11L2052.43 833.11L2058.46 833.11L2064.48 833.11L2070.51 833.11L2076.53 833.11L2082.56 833.11L2088.58 833.11L2094.61 833.1L2100.63 833.1L2106.66 833.1L2112.68 833.1L2118.71 833.1L2124.73 833.1L2130.76 833.1" fill="none" stroke="#ff0000" stroke-width="5.6" stroke-linejoin="round" clip-path="url(#cc)"/>
<path d="M1272.9 1253.3V1314.9M1265.9 1253.3h14M1265.9 1314.9h14" fill="none" stroke="#000" stroke-width="1.0" stroke-opacity="0.6"/>
<rect x="1265.9" y="1271.5" width="14" height="14" fill="#000000"/>
<path d="M1351.6 1277.2V1356.8M1344.6 1277.2h14M1344.6 1356.8h14" fill="none" stroke="#ff0000" stroke-width="1.0" stroke-opacity="0.6"/>
<rect x="1344.6" y="1300.3" width="14" height="14" fill="#ff0000"/>
<path d="M1373.6 1179.4V1205.3M1366.6 1179.4h14M1366.6 1205.3h14" fill="none" stroke="#0000ff" stroke-width="1.0" stroke-opacity="0.85"/>
<rect x="1366.6" y="1184.7" width="14" height="14" fill="#0000ff"/>
<path d="M1396.2 1158.5V1180.6M1389.2 1158.5h14M1389.2 1180.6h14" fill="none" stroke="#008080" stroke-width="1.0" stroke-opacity="0.85"/>
<rect x="1389.2" y="1161.8" width="14" height="14" fill="#008080"/>
<path d="M1496.5 1202.3V1246.2M1489.5 1202.3h14M1489.5 1246.2h14" fill="none" stroke="#808000" stroke-width="1.0" stroke-opacity="0.85"/>
<rect x="1489.5" y="1214.3" width="14" height="14" fill="#808000"/>
<circle cx="1507.7" cy="1032.8" r="7.7" fill="#ff00ff"/>
<path d="M1531.2 1070.2V1114.3M1524.2 1070.2h14M1524.2 1114.3h14" fill="none" stroke="#ff0000" stroke-width="1.0" stroke-opacity="0.7"/>
<circle cx="1531.2" cy="1089" r="7.7" fill="#ff0000"/>
<path d="M1742 1049.7V1074.8M1735 1049.7h14M1735 1074.8h14" fill="none" stroke="#808000" stroke-width="1.0" stroke-opacity="0.85"/>
<circle cx="1742" cy="1061.1" r="7.7" fill="#808000"/>
<path d="M1764.3 1199.6V1226.8M1757.3 1199.6h14M1757.3 1226.8h14" fill="none" stroke="#0000c0" stroke-width="1.0" stroke-opacity="0.7"/>
<circle cx="1764.3" cy="1211.2" r="7.7" fill="#00008b"/>
<path d="M1831.3 1167.2V1209.5M1824.3 1167.2h14M1824.3 1209.5h14" fill="none" stroke="#0000ff" stroke-width="1.0" stroke-opacity="0.8"/>
<circle cx="1831.3" cy="1185.1" r="7.7" fill="#0000ff"/>
<path d="M1965.1 937.5V969.7M1958.1 937.5h14M1958.1 969.7h14" fill="none" stroke="#008080" stroke-width="1.0" stroke-opacity="0.85"/>
<circle cx="1965.1" cy="951.1" r="7.7" fill="#008080"/>
<path d="M1974.9 1354.9V1443M1967.65 1354.9h14.5M1967.65 1443h14.5" fill="none" stroke="#000" stroke-width="1.1" stroke-opacity="0.62"/>
<path d="M1974.9 1377L1984.4 1392.8H1965.4Z" fill="#000"/>
<text x="1287.2" y="1271.1" font-size="18.6">COTIC-4F</text>
<text x="1368.5" y="1313.4" font-size="18.6">SiOTIC-4F</text>
<text x="1320.5" y="1223" font-size="18.6">IDSe-4Cl</text>
<text x="1368.5" y="1150.3" font-size="18.6">IDSe-4F</text>
<text x="1512.7" y="1225.5" font-size="18.6">IDSe-Th</text>
<text x="1525" y="1039.4" font-size="18.6">Y11</text>
<text x="1548.4" y="1093.1" font-size="18.6">Y6</text>
<text x="1758.5" y="1065.9" font-size="18.6">i-IEICO-4F</text>
<text x="1775.8" y="1216.7" font-size="18.6">IT-4F</text>
<text x="1847.3" y="1190.4" font-size="18.6">IT-M</text>
<text x="1981.3" y="967" font-size="18.6">BTA3</text>
<text x="1994" y="1394.5" font-size="18.6">PC<tspan font-size="13" dy="5.5">71</tspan><tspan dy="-5.5">BM</tspan></text>
<path d="M1566.3 1434.3H1612.2" stroke="#000000" stroke-width="5.4" stroke-linecap="round"/>
<text x="1626.6" y="1439.7" font-size="22.9" xml:space="preserve" style="white-space:pre"><tspan font-style="italic">f</tspan><tspan dx="-1.7"> = 2, </tspan><tspan font-style="italic" dx="1.5">h</tspan><tspan font-style="italic" dx="-1.3">ν</tspan><tspan font-size="15" dx="-8.47" dy="-3.6">¯</tspan><tspan font-size="14.66" font-family="'Liberation Serif',serif" dx="-0.71" dy="8.18">v</tspan><tspan dx="2.5" dy="-4.58">= 0.12 eV, </tspan><tspan font-style="italic" dx="2">λ</tspan><tspan font-size="14.66" dy="4.58">s</tspan><tspan dy="-4.58"> = 0.08 eV</tspan></text>
<path d="M1566.3 1467.6H1612.2" stroke="#ff0000" stroke-width="5.4" stroke-linecap="round"/>
<text x="1626.6" y="1473" font-size="22.9" xml:space="preserve" style="white-space:pre"><tspan font-style="italic">f</tspan><tspan dx="-1.7"> = 2, </tspan><tspan font-style="italic" dx="1.5">h</tspan><tspan font-style="italic" dx="-1.3">ν</tspan><tspan font-size="15" dx="-8.47" dy="-3.6">¯</tspan><tspan font-size="14.66" font-family="'Liberation Serif',serif" dx="-0.71" dy="8.18">v</tspan><tspan dx="2.5" dy="-4.58">= 0.12 eV, </tspan><tspan font-style="italic" dx="2">λ</tspan><tspan font-size="14.66" dy="4.58">s</tspan><tspan dy="-4.58"> = 0.12 eV</tspan></text>
<path d="M1566.3 1500.4H1612.2" stroke="#0000ff" stroke-width="5.4" stroke-linecap="round"/>
<text x="1626.6" y="1505.8" font-size="22.9" xml:space="preserve" style="white-space:pre"><tspan font-style="italic">f</tspan><tspan dx="-1.7"> = 1, </tspan><tspan font-style="italic" dx="1.5">h</tspan><tspan font-style="italic" dx="-1.3">ν</tspan><tspan font-size="15" dx="-8.47" dy="-3.6">¯</tspan><tspan font-size="14.66" font-family="'Liberation Serif',serif" dx="-0.71" dy="8.18">v</tspan><tspan dx="2.5" dy="-4.58">= 0.15 eV, </tspan><tspan font-style="italic" dx="2">λ</tspan><tspan font-size="14.66" dy="4.58">s</tspan><tspan dy="-4.58"> = 0.15 eV</tspan></text>
<path d="M1566.3 1533.3H1612.2" stroke="#008080" stroke-width="5.4" stroke-linecap="round"/>
<text x="1626.6" y="1538.7" font-size="22.9" xml:space="preserve" style="white-space:pre"><tspan font-style="italic">f</tspan><tspan dx="-1.7"> = 0.02, </tspan><tspan font-style="italic" dx="1.5">h</tspan><tspan font-style="italic" dx="-1.3">ν</tspan><tspan font-size="15" dx="-8.47" dy="-3.6">¯</tspan><tspan font-size="14.66" font-family="'Liberation Serif',serif" dx="-0.71" dy="8.18">v</tspan><tspan dx="2.5" dy="-4.58">= 0.17 eV, </tspan><tspan font-style="italic" dx="2">λ</tspan><tspan font-size="14.66" dy="4.58">s</tspan><tspan dy="-4.58"> = 0.30 eV</tspan></text>
<path d="M2109 836.2V1569" fill="none" stroke="#000" stroke-width="1.05"/>
<text x="1195" y="1603" font-size="27" text-anchor="middle">1.1</text>
<text x="1306.4" y="1603" font-size="27" text-anchor="middle">1.2</text>
<text x="1417.8" y="1603" font-size="27" text-anchor="middle">1.3</text>
<text x="1529.2" y="1603" font-size="27" text-anchor="middle">1.4</text>
<text x="1640.6" y="1603" font-size="27" text-anchor="middle">1.5</text>
<text x="1752" y="1603" font-size="27" text-anchor="middle">1.6</text>
<text x="1863.4" y="1603" font-size="27" text-anchor="middle">1.7</text>
<text x="1974.8" y="1603" font-size="27" text-anchor="middle">1.8</text>
<text x="2086.2" y="1603" font-size="27" text-anchor="middle">1.9</text>
<text x="1181.5" y="1578.9" font-size="27" text-anchor="end">10<tspan font-size="17.5" dy="-12.2">−2</tspan></text>
<text x="1181.5" y="1394.8" font-size="27" text-anchor="end">10<tspan font-size="17.5" dy="-12.2">−1</tspan></text>
<text x="1181.5" y="1210.7" font-size="27" text-anchor="end">10<tspan font-size="18.5" dy="-12.2">0</tspan></text>
<text x="1181.5" y="1026.6" font-size="27" text-anchor="end">10<tspan font-size="18.5" dy="-12.2">1</tspan></text>
<text x="1181.5" y="842.5" font-size="27" text-anchor="end">10<tspan font-size="18.5" dy="-12.2">2</tspan></text>
<text x="1651" y="1649.2" font-size="27" text-anchor="middle">Bandgap (eV)</text>
<text transform="translate(1100.9 1203.7) rotate(-90)" font-size="27" text-anchor="middle">PLQY (%)</text>
<text x="1073.2" y="834.6" font-size="30" font-weight="bold">c</text>
</svg></body></html>
